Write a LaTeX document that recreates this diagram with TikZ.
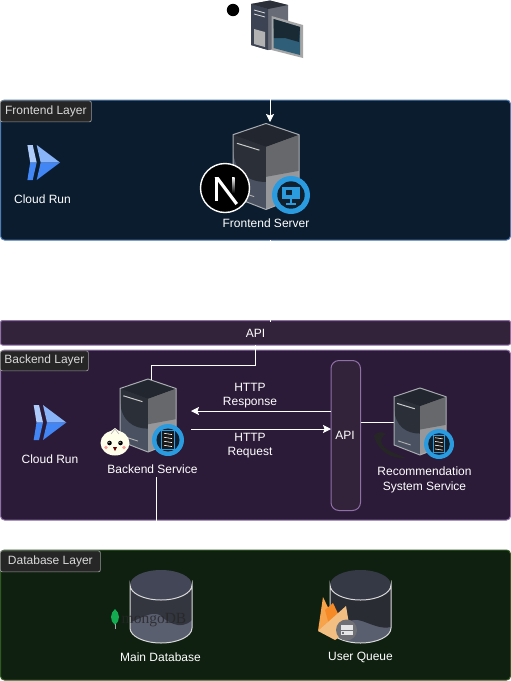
\documentclass[tikz,border=0pt]{standalone}
\usepackage{fontspec}
\setmainfont{Liberation Sans}
\usetikzlibrary{arrows.meta}
\definecolor{frontbg}{HTML}{0B1C2F}
\definecolor{frontline}{HTML}{4F7CB3}
\definecolor{backbg}{HTML}{2B1B38}
\definecolor{backline}{HTML}{8E6FA6}
\definecolor{apibg}{HTML}{33233A}
\definecolor{dbbg}{HTML}{0F2010}
\definecolor{dbline}{HTML}{2F5A22}
\definecolor{servleft}{HTML}{4A5161}
\definecolor{servdark}{HTML}{2A2F38}
\definecolor{servright}{HTML}{96979A}
\definecolor{servrightu}{HTML}{66686B}
\definecolor{servtop}{HTML}{22262E}
\definecolor{servedge}{HTML}{A9ACB1}
\definecolor{lightA}{HTML}{AECBFA}
\definecolor{lightB}{HTML}{8AB4F8}
\definecolor{blueA}{HTML}{4285F4}
\definecolor{badgeblue}{HTML}{2B9BE0}
\definecolor{badgedark}{HTML}{10202E}
\definecolor{towergrey}{HTML}{666B75}
\definecolor{towerface}{HTML}{3C4352}
\definecolor{towertop}{HTML}{2C3038}
\definecolor{screenblue}{HTML}{2F5F78}
\definecolor{screendark}{HTML}{1A2A35}
\definecolor{cylblow}{HTML}{5A5F70}
\definecolor{cylmid}{HTML}{33363F}
\definecolor{cyltopa}{HTML}{434656}
\definecolor{cyltopb}{HTML}{353845}
\definecolor{cylmidb}{HTML}{2A2C33}
\definecolor{leafgreen}{HTML}{13AA52}
\definecolor{fireA}{HTML}{F6A34B}
\definecolor{fireB}{HTML}{F58A26}
\definecolor{fireC}{HTML}{F3BE82}
\definecolor{stackbadge}{HTML}{6E7075}
\tikzset{
  x=1pt,y=-1pt,
  every node/.style={font=\fontsize{12}{14.6}\selectfont,text=white,inner sep=0pt,align=center},
  layerbox/.style={draw=#1,line width=1pt,rounded corners=4pt},
  tagbox/.style={draw=gray!80,fill=black!85,line width=.7pt,rounded corners=2pt,anchor=north west,text=gray!30,minimum height=21pt},
  wire/.style={draw=white,line width=1pt},
  arrowwire/.style={wire,-{Stealth[length=8pt,width=8pt,inset=1.5pt]}},
  pics/serverbox/.style={code={
    \fill[servleft] (0,13) -- (50,27) -- (50,100) -- (0,85) -- cycle;
    \fill[servdark] (0,13) -- (50,27) -- (50,68) .. controls (25,68) and (2,58) .. (0,30) -- cycle;
    \fill[servright] (100,13) -- (50,27) -- (50,100) -- (100,85) -- cycle;
    \fill[servrightu] (100,13) -- (50,27) -- (50,62) -- (100,55) -- cycle;
    \fill[servtop] (0,13) -- (50,0) -- (100,13) -- (50,27) -- cycle;
    \draw[servedge,line width=1pt,line join=round] (0,13) -- (50,0) -- (100,13) -- (100,85) -- (50,100) -- (0,85) -- cycle;
    \draw[black!20,line width=1pt] (6,23) -- (40,31);
    \draw[black!30,line width=.9pt] (8,79) -- (32,85);
  }},
}
\newcommand{\badge}[4]{%
  \fill[badgeblue] (#1,#2) circle (#3);
  \fill[badgedark] (#1,#2) circle (#3*0.72);
  \ifnum#4=1
    \fill[badgeblue] ({#1-#3*.45},{#2-#3*.42}) rectangle ({#1+#3*.45},{#2+#3*.22});
    \fill[badgedark] ({#1-#3*.28},{#2-#3*.25}) rectangle ({#1+#3*.05},{#2-#3*.02});
    \fill[badgeblue] ({#1-#3*.05},{#2+#3*.22}) rectangle ({#1+#3*.05},{#2+#3*.42});
    \fill[badgeblue] ({#1-#3*.28},{#2+#3*.42}) rectangle ({#1+#3*.28},{#2+#3*.5});
  \else
    \fill[badgeblue] ({#1-#3*.42},{#2-#3*.62}) rectangle ({#1+#3*.42},{#2+#3*.62});
    \fill[black!90] ({#1-#3*.36},{#2-#3*.56}) rectangle ({#1+#3*.36},{#2+#3*.56});
    \foreach \k in {-.38,-.13,.12,.37} \draw[white,line width=.6pt] ({#1-#3*.25},{#2+#3*\k-#3*.04}) -- ({#1+#3*.25},{#2+#3*\k+#3*.04});
  \fi}
\newcommand{\cloudrun}[2]{%
  \begin{scope}[shift={(#1,#2)}]
    \fill[lightA] (0.7,0) -- (6,0) -- (10,17.5) -- (3.5,17.5) -- cycle;
    \fill[blueA] (3.5,17.5) -- (10,17.5) -- (6,35) -- (0.7,35) -- cycle;
    \fill[lightB] (10,0) -- (33.3,17.5) -- (14,17.5) -- cycle;
    \fill[blueA] (14,17.5) -- (33.3,17.5) -- (10,35) -- cycle;
  \end{scope}}
\begin{document}
\begin{tikzpicture}
\useasboundingbox (0,0) rectangle (511,681);
\fill[white] (0,0) rectangle (511,681);

% layers
\filldraw[layerbox=frontline,fill=frontbg] (0.5,100) rectangle (510.5,240);
\node[tagbox,minimum width=91pt] (fronttag) at (0,100.5) {Frontend Layer};
\filldraw[layerbox=backline,fill=apibg,rounded corners=2pt] (0.5,320.5) rectangle (510.5,345);
\node (apibar) at (255.5,333) {API};
\filldraw[layerbox=backline,fill=backbg] (0.5,350) rectangle (510.5,520);
\node[tagbox,minimum width=88pt,minimum height=20pt] (backtag) at (0,350.5) {Backend Layer};
\filldraw[layerbox=dbline,fill=dbbg] (0.5,550) rectangle (510.5,680);
\node[tagbox,minimum width=100pt] (dbtag) at (0,550.5) {Database Layer};

% client
\fill (233,10) circle (6.2);
\fill[towergrey] (251,4) -- (270,0.5) -- (288,5) -- (288,48) -- (268,50) -- (251,45) -- cycle;
\fill[towerface] (251,4) -- (268,9) -- (268,50) -- (251,45) -- cycle;
\fill[towertop] (251,4) -- (270,0.5) -- (288,5) -- (268,9) -- cycle;
\draw[black!15,line width=.8pt] (254,10) -- (265,13) (254,14) -- (265,17);
\fill[gray!60] (254,29) -- (265,32) -- (265,47) -- (254,44) -- cycle;
\fill[gray!70] (271.5,16) -- (303,25) -- (303,58) -- (271.5,50) -- cycle;
\fill[screenblue] (273.5,19) -- (300,27) -- (300,55) -- (273.5,48) -- cycle;
\fill[screendark] (273.5,19) -- (300,27) -- (299,42) -- (285,38) -- (274,38) -- cycle;
\coordinate (client) at (270,60);

% frontend
\cloudrun{26.7}{145}
\node (cr1) at (42.5,199) {Cloud Run};
\pic[shift={(233,123.5)},xscale=.66,yscale=.86] (fe) {serverbox};
\coordinate (fetop) at (270,122);
\draw[arrowwire] (client) -- (fetop);
\badge{291}{195}{19}{1}
\fill[black,draw=white,line width=1.4pt] (225,188) circle (24.5);
\fill[white] (214.5,177) rectangle (218,201);
\fill[white] (214.5,177) -- (218.5,177) -- (238,203) -- (235.5,205) -- cycle;
\shade[top color=white,bottom color=black] (232,177) rectangle (234.5,193);
\node (feserver) at (266,223) {Frontend Server};
\coordinate (febot) at (270,240);
\coordinate (apitop) at (270,322);
\draw[wire] (febot) -- (apitop);

% backend
\cloudrun{33}{405}
\node (cr2) at (50,459) {Cloud Run};
\pic[shift={(120,379)},xscale=.56,yscale=.73] (be) {serverbox};
\badge{168}{440}{16}{2}
\fill[white!92!yellow] (115,443) ellipse (14.5 and 12.5);
\fill[white!92!yellow] (115,428) -- (107,434) -- (123,434) -- cycle;
\draw[gray!70,line width=.5pt] (115,429) -- (111,434) (115,429) -- (119,434);
\fill[black] (109.5,443) circle (2.3) (120.5,443) circle (2.3);
\fill[white] (109,442.2) circle (.7) (120,442.2) circle (.7);
\fill[pink!80!red] (106,447.5) circle (1.8) (124,447.5) circle (1.8);
\fill[red!40!black] (113,447) -- (117,447) -- (115,451) -- cycle;
\node (beservice) at (152.5,469) {Backend Service};
\coordinate (apidown) at (255.5,345);
\coordinate (bebox) at (151,380);
\draw[wire] (apidown) -- (255.5,365) -- (151,365) -- (bebox);
\coordinate (beout) at (156,477);
\coordinate (dbin) at (156,549);
\draw[wire] (beout) -- (dbin);

% API pill
\filldraw[draw=backline,line width=1pt,fill=apibg,rounded corners=8pt] (331,360.5) rectangle (360.5,510.5);
\node (api) at (345,435) {API};
\coordinate (bein) at (191,411);
\coordinate (apiin) at (331,429);
\coordinate (apiout) at (331,411);
\coordinate (bereq) at (191,429);
\draw[arrowwire] (apiout) -- (bein);
\draw[arrowwire] (bereq) -- (apiin);
\node (resp) at (250,395.5) {HTTP\\Response};
\node (req) at (250,445.5) {HTTP\\Request};
\coordinate (recl) at (395,422);
\coordinate (apir) at (360.5,422);
\draw[wire] (apir) -- (recl);

% recommendation
\pic[shift={(394,388)},xscale=.52,yscale=.67] (rec) {serverbox};
\badge{439}{444}{15}{2}
\fill[black!85] (374,436) .. controls (376,432) and (382,431) .. (386,434) .. controls (382,436) and (380,440) .. (382,444) .. controls (385,450) and (394,453) .. (406,458) .. controls (392,459) and (378,452) .. (374,436) -- cycle;
\node (rectxt) at (424.5,480) {Recommendation\\System Service};

% databases
\fill[cylblow] (130,585) arc[start angle=180,end angle=0,x radius=31,y radius=15] -- (192,628) arc[start angle=0,end angle=180,x radius=31,y radius=15] -- cycle;
\fill[cylmid] (130,585) -- (192,585) -- (192,620) .. controls (180,632) and (165,620) .. (160,615) .. controls (150,610) and (135,622) .. (130,622) -- cycle;
\fill[cyltopa] (161,585) ellipse (31 and 15);
\draw[black!15,line width=1pt] (130,585) arc[start angle=180,end angle=0,x radius=31,y radius=15] -- (192,628) arc[start angle=0,end angle=180,x radius=31,y radius=15] -- cycle;
\fill[leafgreen] (115,609) .. controls (110,613) and (109.5,621) .. (115,625) .. controls (120.5,621) and (120,613) .. (115,609) -- cycle;
\draw[gray!70,line width=.6pt] (115,624) -- (115,629);
\node[text=black!85,anchor=west,font=\fontspec{Liberation Serif}\fontsize{15.5}{15.5}\selectfont,opacity=.8] (mongo) at (121.5,620) {mongoDB};
\node (maindb) at (160.5,657) {Main Database};

\fill[cylblow] (330,585) arc[start angle=180,end angle=0,x radius=30.5,y radius=15] -- (391,628) arc[start angle=0,end angle=180,x radius=30.5,y radius=15] -- cycle;
\fill[cylmidb] (330,585) -- (391,585) -- (391,627) .. controls (380,630) and (368,622) .. (358,620) .. controls (348,618) and (338,630) .. (330,630) -- cycle;
\fill[cyltopb] (360.5,585) ellipse (30.5 and 15);
\draw[black!15,line width=1pt] (330,585) arc[start angle=180,end angle=0,x radius=30.5,y radius=15] -- (391,628) arc[start angle=0,end angle=180,x radius=30.5,y radius=15] -- cycle;
\fill[fireA] (318,631) -- (323,597) -- (334,620) -- cycle;
\fill[fireB] (325,610) -- (333,603) -- (342,622) -- (330,628) -- cycle;
\fill[fireC] (318,631) -- (346,606) -- (350,630) -- (335,640) -- cycle;
\fill[stackbadge] (346.5,630) circle (10.5);
\fill[black!10] (340.5,625) rectangle (352.5,629.5);
\fill[black!10] (340.5,630.5) rectangle (352.5,635);
\fill[stackbadge] (342,632) rectangle (344,633.5);
\node (queue) at (360.5,657) {User Queue};
\end{tikzpicture}
\end{document}
